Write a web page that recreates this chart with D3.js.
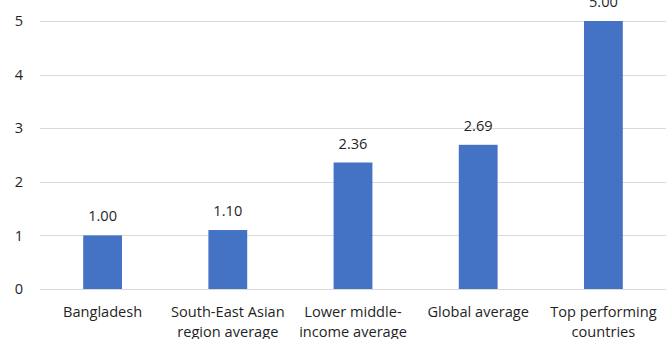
<!DOCTYPE html>
<html>
<head>
<meta charset="utf-8">
<script src="https://cdn.jsdelivr.net/npm/d3@7/dist/d3.min.js"></script>
<style>
  html, body { margin: 0; padding: 0; background: #fff; }
  svg { display: block; font-family: "Open Sans", "Noto Sans", sans-serif; }
</style>
</head>
<body>
<svg id="chart" width="671" height="339"></svg>
<script>
// Category labels (each entry is the lines of one label)
const categories = [
  ["Bangladesh"],
  ["South-East Asian", "region average"],
  ["Lower middle-", "income average"],
  ["Global average"],
  ["Top performing", "countries"]
];
const values = [1.00, 1.10, 2.36, 2.69, 5.00];
const yTicks = [0, 1, 2, 3, 4, 5];

const svg = d3.select("#chart");
const margin = { left: 40, right: 5, top: 21, bottom: 50 };
const W = 671, H = 339;
const fontSize = "14.6px";
const textColor = "#1f1f1f";

const x = d3.scaleBand()
  .domain(d3.range(values.length))
  .range([margin.left, W - margin.right])
  .paddingInner(0.69)
  .paddingOuter(0.345);

const y = d3.scaleLinear()
  .domain([0, 5])
  .range([H - margin.bottom, margin.top]);

// Horizontal gridlines
svg.append("g")
  .selectAll("line")
  .data(yTicks)
  .join("line")
  .attr("x1", margin.left)
  .attr("x2", W - margin.right)
  .attr("y1", d => Math.round(y(d)) + 0.5)
  .attr("y2", d => Math.round(y(d)) + 0.5)
  .attr("stroke", "#d9d9d9")
  .attr("stroke-width", 1.2);

// Y axis tick labels
const yAxis = d3.axisLeft(y).tickValues(yTicks).tickSize(0).tickPadding(0).tickFormat(d3.format("d"));
const gy = svg.append("g").attr("transform", `translate(24,0)`).call(yAxis);
gy.select(".domain").remove();
gy.selectAll("text")
  .attr("text-anchor", "middle")
  .attr("x", -5)
  .attr("fill", textColor)
  .style("font-size", fontSize)
  .style("font-weight", 500)
  .style("font-family", "'Open Sans', sans-serif");

// Bars
svg.append("g")
  .selectAll("rect")
  .data(values)
  .join("rect")
  .attr("x", (d, i) => x(i))
  .attr("width", x.bandwidth())
  .attr("y", d => y(d))
  .attr("height", d => y(0) - y(d))
  .attr("fill", "#4472c4");

// Value labels
svg.append("g")
  .selectAll("text")
  .data(values)
  .join("text")
  .attr("x", (d, i) => x(i) + x.bandwidth() / 2)
  .attr("y", d => y(d) - 14)
  .attr("text-anchor", "middle")
  .attr("fill", textColor)
  .style("font-size", fontSize)
  .style("font-weight", 500)
  .text(d => d3.format(".2f")(d));

// Category labels
const cat = svg.append("g")
  .selectAll("text")
  .data(categories)
  .join("text")
  .attr("x", (d, i) => x(i) + x.bandwidth() / 2)
  .attr("y", 317)
  .attr("text-anchor", "middle")
  .attr("fill", textColor)
  .style("font-size", fontSize)
  .style("font-weight", 500);
cat.selectAll("tspan")
  .data(d => d)
  .join("tspan")
  .attr("x", function () { return d3.select(this.parentNode).attr("x"); })
  .attr("dy", (d, j) => j === 0 ? 0 : 20)
  .text(d => d);
</script>
</body>
</html>
